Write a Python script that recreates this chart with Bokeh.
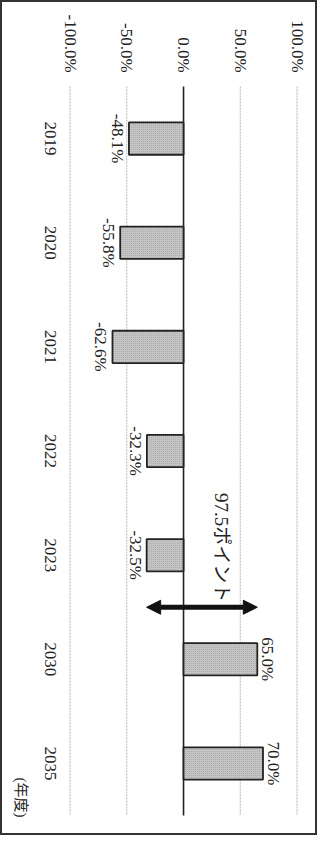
import math
from bokeh.plotting import figure
from bokeh.models import ColumnDataSource, Range1d, Arrow, NormalHead, Label
from bokeh.core.properties import value
from bokeh.embed import file_html
from bokeh.resources import INLINE

# ---- data ----
years = ["2019", "2020", "2021", "2022", "2023", "2030", "2035"]
rates = [-48.1, -55.8, -62.6, -32.3, -32.5, 65.0, 70.0]
value_ticks = [-100, -50, 0, 50, 100]
value_tick_labels = ["-100.0%", "-50.0%", "0.0%", "50.0%", "100.0%"]
gap_text = "97.5ポイント"
unit_text = "(年度)"

FONT = "Liberation Serif, Noto Sans CJK JP"
TXT = "#222222"
ROT = -math.pi / 2

idx = list(range(len(years)))
labels = [f"{v:.1f}%" for v in rates]
top = -0.5                      # upper edge of the category band
bottom = len(years) - 0.5       # lower edge of the category band

src = ColumnDataSource(dict(y=idx, v=rates, year=years,
                            base=[value_ticks[0]] * len(years)))
neg_i = [i for i, v in enumerate(rates) if v < 0]
pos_i = [i for i, v in enumerate(rates) if v >= 0]
neg_src = ColumnDataSource(dict(y=[idx[i] for i in neg_i], v=[rates[i] for i in neg_i],
                                lab=[labels[i] for i in neg_i]))
pos_src = ColumnDataSource(dict(y=[idx[i] for i in pos_i], v=[rates[i] for i in pos_i],
                                lab=[labels[i] for i in pos_i]))
grid_x = [t for t in value_ticks if t != 0]
grid_src = ColumnDataSource(dict(x=grid_x, y0=[top] * len(grid_x), y1=[bottom] * len(grid_x)))
tick_src = ColumnDataSource(dict(x=value_ticks, y=[top] * len(value_ticks), t=value_tick_labels))

# plotting area covers the whole bordered box; ranges padded for label room
p = figure(width=317, height=835, output_backend="svg", toolbar_location=None,
           x_range=Range1d(value_ticks[0] - 59.5, value_ticks[-1] + 19.8),
           y_range=Range1d(bottom + 0.211, top - 0.807),
           min_border=0, min_border_left=0, min_border_right=0,
           min_border_top=0, min_border_bottom=0)
p.styles = {"border": "2px solid #333333"}
p.outline_line_color = None
p.background_fill_color = "white"
p.border_fill_color = "white"
p.xaxis.visible = False
p.yaxis.visible = False
p.grid.visible = False

# grid lines and zero line
p.segment(x0="x", x1="x", y0="y0", y1="y1", source=grid_src,
          line_color="#b5b5b5", line_dash="2 1", line_width=1)
p.segment(x0=[0], x1=[0], y0=[top], y1=[bottom], line_color="#222222", line_width=1.6)

# value tick labels (rotated, end-aligned toward the plot)
p.text(x="x", y="y", text="t", source=tick_src, angle=ROT, y_offset=-14,
       text_align="right", text_baseline="middle", text_font=value(FONT),
       text_font_size="17px", text_color=TXT)

# bars
p.hbar(y="y", left=0, right="v", height=0.31, source=src,
       fill_color="#c4c4c4", line_color="#222222", line_width=1.8,
       hatch_pattern="dot", hatch_color="#8a8a8a", hatch_scale=2, hatch_alpha=0.5)

# data labels
p.text(x="v", y="y", text="lab", source=neg_src, angle=ROT, x_offset=-2,
       text_align="center", text_baseline="top", text_font=value(FONT),
       text_font_size="17px", text_color=TXT)
p.text(x="v", y="y", text="lab", source=pos_src, angle=ROT, x_offset=1,
       text_align="center", text_baseline="bottom", text_font=value(FONT),
       text_font_size="17px", text_color=TXT)

# category labels
p.text(x="base", y="y", text="year", source=src, angle=ROT, x_offset=-20,
       text_align="center", text_baseline="middle", text_font=value(FONT),
       text_font_size="17px", text_color=TXT)

# unit label
p.text(x=[value_ticks[0]], y=[bottom], text=[unit_text], angle=ROT, x_offset=-49, y_offset=2,
       text_align="right", text_baseline="middle", text_font=value(FONT),
       text_font_size="15px", text_color=TXT)

# difference arrow
a0, a1 = rates[4], rates[5]
ay = (idx[4] + idx[5]) / 2
p.add_layout(Arrow(x_start=a0, x_end=a1, y_start=ay, y_end=ay, line_width=5, line_color="#111111",
                   start=NormalHead(size=14, fill_color="#111111", line_color="#111111"),
                   end=NormalHead(size=14, fill_color="#111111", line_color="#111111")))
p.add_layout(Label(x=(a0 + a1) / 2, y=ay, text=gap_text, angle=ROT, x_offset=20, y_offset=5,
                   text_align="right", text_baseline="middle", text_font=FONT,
                   text_font_size="19px", text_color=TXT))

open("out.html", "w").write(file_html(p, INLINE))
